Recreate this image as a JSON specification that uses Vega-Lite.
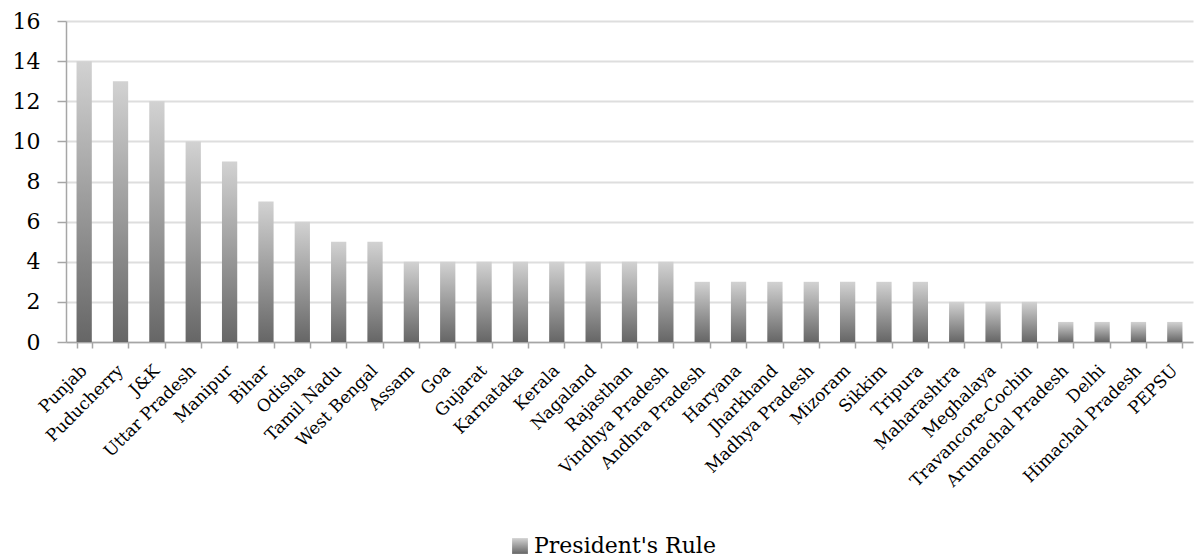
{
  "$schema": "https://vega.github.io/schema/vega-lite/v6.json",
  "width": 1127,
  "height": 321,
  "autosize": {"type": "none"},
  "padding": {"left": 66, "top": 21, "right": 3, "bottom": 217},
  "background": "white",
  "config": {
    "view": {"stroke": null},
    "font": "DejaVu Serif"
  },
  "data": {
    "values": [
      {"state": "Punjab", "count": 14, "series": "President's Rule"},
      {"state": "Puducherry", "count": 13, "series": "President's Rule"},
      {"state": "J&K", "count": 12, "series": "President's Rule"},
      {"state": "Uttar Pradesh", "count": 10, "series": "President's Rule"},
      {"state": "Manipur", "count": 9, "series": "President's Rule"},
      {"state": "Bihar", "count": 7, "series": "President's Rule"},
      {"state": "Odisha", "count": 6, "series": "President's Rule"},
      {"state": "Tamil Nadu", "count": 5, "series": "President's Rule"},
      {"state": "West Bengal", "count": 5, "series": "President's Rule"},
      {"state": "Assam", "count": 4, "series": "President's Rule"},
      {"state": "Goa", "count": 4, "series": "President's Rule"},
      {"state": "Gujarat", "count": 4, "series": "President's Rule"},
      {"state": "Karnataka", "count": 4, "series": "President's Rule"},
      {"state": "Kerala", "count": 4, "series": "President's Rule"},
      {"state": "Nagaland", "count": 4, "series": "President's Rule"},
      {"state": "Rajasthan", "count": 4, "series": "President's Rule"},
      {"state": "Vindhya Pradesh", "count": 4, "series": "President's Rule"},
      {"state": "Andhra Pradesh", "count": 3, "series": "President's Rule"},
      {"state": "Haryana", "count": 3, "series": "President's Rule"},
      {"state": "Jharkhand", "count": 3, "series": "President's Rule"},
      {"state": "Madhya Pradesh", "count": 3, "series": "President's Rule"},
      {"state": "Mizoram", "count": 3, "series": "President's Rule"},
      {"state": "Sikkim", "count": 3, "series": "President's Rule"},
      {"state": "Tripura", "count": 3, "series": "President's Rule"},
      {"state": "Maharashtra", "count": 2, "series": "President's Rule"},
      {"state": "Meghalaya", "count": 2, "series": "President's Rule"},
      {"state": "Travancore-Cochin", "count": 2, "series": "President's Rule"},
      {"state": "Arunachal Pradesh", "count": 1, "series": "President's Rule"},
      {"state": "Delhi", "count": 1, "series": "President's Rule"},
      {"state": "Himachal Pradesh", "count": 1, "series": "President's Rule"},
      {"state": "PEPSU", "count": 1, "series": "President's Rule"}
    ]
  },
  "encoding": {
    "x": {
      "field": "state",
      "type": "nominal",
      "sort": null,
      "title": null,
      "scale": {"paddingInner": 0.58, "paddingOuter": 0.29},
      "axis": {
        "labelAngle": -45,
        "labelAlign": "right",
        "labelBaseline": "top",
        "labelFontSize": 17,
        "labelColor": "#000000",
        "labelFont": "DejaVu Serif",
        "labelPadding": 14,
        "labelOffset": -6,
        "labelLimit": 400,
        "tickBand": "extent",
        "tickSize": 6,
        "tickColor": "#a6a6a6",
        "domainColor": "#a6a6a6",
        "domainWidth": 1.5,
        "tickWidth": 1.5
      }
    },
    "y": {
      "field": "count",
      "type": "quantitative",
      "title": null,
      "scale": {"domain": [0, 16], "nice": false},
      "axis": {
        "values": [0, 2, 4, 6, 8, 10, 12, 14, 16],
        "labelFontSize": 22,
        "labelColor": "#000000",
        "labelFont": "DejaVu Serif",
        "labelPadding": 17,
        "tickSize": 9,
        "tickColor": "#a6a6a6",
        "tickWidth": 1.5,
        "domainColor": "#a6a6a6",
        "domainWidth": 1.5,
        "gridColor": "#dedede",
        "gridWidth": 2
      }
    }
  },
  "layer": [
    {
      "mark": {
        "type": "bar",
        "color": {
          "gradient": "linear",
          "x1": 0, "y1": 1, "x2": 0, "y2": 0,
          "stops": [
            {"offset": 0, "color": "#666666"},
            {"offset": 1, "color": "#d2d2d2"}
          ]
        }
      }
    },
    {
      "mark": {
        "type": "point",
        "filled": true,
        "opacity": 0,
        "color": {
          "gradient": "linear",
          "x1": 0, "y1": 1, "x2": 0, "y2": 0,
          "stops": [
            {"offset": 0, "color": "#666666"},
            {"offset": 1, "color": "#d2d2d2"}
          ]
        }
      },
      "encoding": {
        "shape": {
          "field": "series",
          "type": "nominal",
          "scale": {"range": ["square"]},
          "legend": {
            "orient": "none",
            "legendX": 443,
            "legendY": 514,
            "direction": "horizontal",
            "title": null,
            "symbolSize": 250,
            "symbolStrokeWidth": 0,
            "labelFontSize": 22,
            "labelFont": "DejaVu Serif",
            "labelColor": "#000000",
            "labelLimit": 400,
            "labelOffset": 3,
            "encode": {
              "symbols": {
                "update": {
                  "opacity": {"value": 1},
                  "fillOpacity": {"value": 1},
                  "fill": {"signal": "{gradient: 'linear', x1: 0, y1: 1, x2: 0, y2: 0, stops: [{offset: 0, color: '#666666'}, {offset: 1, color: '#d2d2d2'}]}"}
                }
              }
            }
          }
        }
      }
    }
  ]
}
